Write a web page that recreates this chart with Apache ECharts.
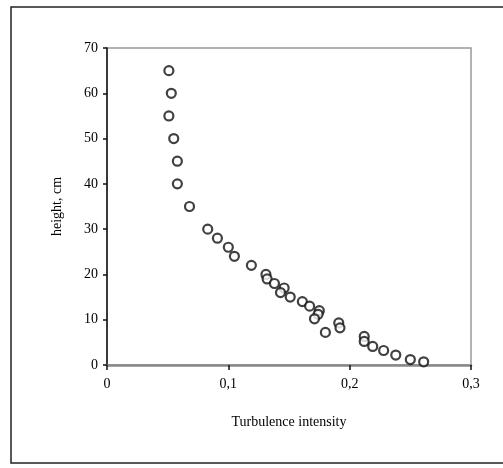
<!DOCTYPE html>
<html>
<head>
<meta charset="utf-8">
<script src="https://cdn.jsdelivr.net/npm/echarts@6/dist/echarts.min.js"></script>
<style>
  html, body { margin: 0; padding: 0; background: #fff; }
  #chart { width: 503px; height: 468px; }
</style>
</head>
<body>
<div id="chart"></div>
<script>
// turbulence intensity vs height
const intensity = [0.051, 0.053, 0.051, 0.055, 0.058, 0.058, 0.068, 0.083, 0.091, 0.100, 0.105,
  0.119, 0.131, 0.132, 0.138, 0.146, 0.143, 0.151, 0.161, 0.167, 0.175, 0.174, 0.171,
  0.180, 0.191, 0.192, 0.212, 0.212, 0.219, 0.228, 0.238, 0.250, 0.261]
const heightCm = [65, 60, 55, 50, 45, 40, 35, 30, 28, 26, 24,
  22, 20, 19, 18, 17, 16, 15, 14, 13, 12, 11.2, 10.2,
  7.2, 9.3, 8.2, 6.3, 5.2, 4.1, 3.2, 2.2, 1.2, 0.7]
const xTicks = ['0', '0,1', '0,2', '0,3']

const points = intensity.map((x, i) => [x, heightCm[i]])

const serif = '"Liberation Serif", "DejaVu Serif", serif'
const chart = echarts.init(document.getElementById('chart'))

const option = {
  animation: false,
  backgroundColor: '#fff',
  graphic: [{
    type: 'rect',
    shape: { x: 11, y: 7, width: 500, height: 456 },
    style: { fill: 'none', stroke: '#222', lineWidth: 1.5 },
    silent: true
  }],
  grid: {
    left: 107,
    top: 48,
    right: 32,
    bottom: 103,
    show: true,
    borderColor: '#999',
    borderWidth: 1.5
  },
  xAxis: {
    type: 'value',
    min: 0,
    max: 0.3,
    interval: 0.1,
    name: 'Turbulence intensity',
    nameLocation: 'middle',
    nameGap: 50,
    nameTextStyle: { fontFamily: serif, fontSize: 14, color: '#000' },
    splitLine: { show: false },
    axisLine: { lineStyle: { color: '#888', width: 2.5 } },
    axisTick: { length: 5, lineStyle: { color: '#111', width: 1.5 } },
    axisLabel: {
      margin: 12,
      fontFamily: serif,
      fontSize: 14,
      color: '#000',
      formatter: (v) => xTicks[Math.round(v * 10)]
    }
  },
  yAxis: [{
    type: 'value',
    min: 0,
    max: 70,
    interval: 10,
    name: 'height, cm',
    nameLocation: 'middle',
    nameGap: 43,
    nameTextStyle: { fontFamily: serif, fontSize: 14, color: '#000' },
    splitLine: { show: false },
    axisLine: { lineStyle: { color: '#111', width: 1.5 } },
    axisTick: { length: 4, lineStyle: { color: '#111', width: 1.5 } },
    axisLabel: { margin: 9, fontFamily: serif, fontSize: 14, color: '#000' }
  }],
  series: [{
    type: 'scatter',
    data: points,
    symbol: 'circle',
    symbolSize: 9,
    itemStyle: { color: '#fff', borderColor: '#111', borderWidth: 2.2 }
  }]
}

chart.setOption(option)
</script>
</body>
</html>
